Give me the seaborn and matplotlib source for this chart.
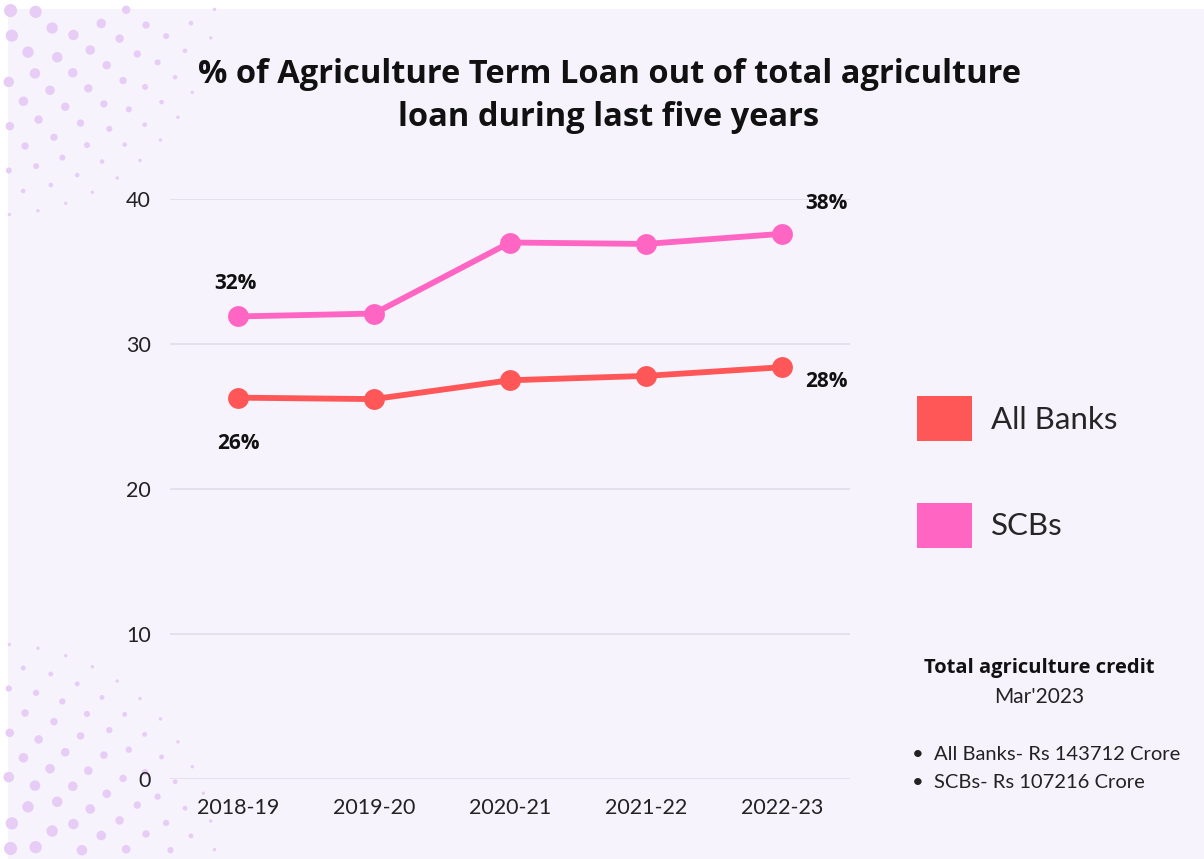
import numpy as np
import pandas as pd
import matplotlib
matplotlib.use("Agg")
import matplotlib.pyplot as plt
from matplotlib.patches import Patch, Rectangle
import seaborn as sns

# ---- data ----
years = ["2018-19", "2019-20", "2020-21", "2021-22", "2022-23"]
all_banks = [26.3, 26.2, 27.5, 27.8, 28.4]
scbs = [31.9, 32.1, 37.0, 36.9, 37.6]
series_names = ["All Banks", "SCBs"]
yticks = [0, 10, 20, 30, 40]

first_labels = ["26%", "32%"]
last_labels = ["28%", "38%"]

BG = "#F6F3FD"
DOT = "#E7CDF5"
COLORS = {"All Banks": "#FF5757", "SCBs": "#FF66C4"}

df = pd.DataFrame({
    "year": years * 2,
    "value": all_banks + scbs,
    "series": [series_names[0]] * len(years) + [series_names[1]] * len(years),
})

sns.set_theme(style="white")
plt.rcParams["font.family"] = ["Lato", "DejaVu Sans"]
HEAVY = ["Open Sans", "DejaVu Sans"]

W, H = 1204, 859
fig = plt.figure(figsize=(W / 100, H / 100), dpi=100, facecolor="white")

# lavender page with a thin white margin on top and left
fig.patches.append(Rectangle((8 / W, 0), 1 - 8 / W, 1 - 9 / H,
                             transform=fig.transFigure, facecolor=BG,
                             edgecolor="none", zorder=-10))

# halftone dot decorations in the left corners
bg_ax = fig.add_axes([0, 0, 1, 1], zorder=-5)
bg_ax.set_xlim(0, W)
bg_ax.set_ylim(H, 0)
bg_ax.axis("off")
bg_ax.patch.set_alpha(0)


def halftone(cx, cy, a0, a1, rmax, rstep=22, astep=27):
    xs, ys, ss = [], [], []
    r = rstep
    k = 0
    while r < rmax:
        n = max(2, int((a1 - a0) * r / astep))
        off = 0.5 if k % 2 else 0.0
        for i in range(n):
            a = a0 + (a1 - a0) * (i + off) / n
            x, y = cx + r * np.cos(a), cy + r * np.sin(a)
            if 8 <= x <= W and 9 <= y <= H:
                xs.append(x)
                ys.append(y)
                ss.append(max(6, 100 * (1 - r / rmax) ** 1.2))
        r += rstep
        k += 1
    bg_ax.scatter(xs, ys, s=ss, color=DOT, linewidths=0)


halftone(-5, -5, 0, np.pi / 2, 235)
halftone(-5, H + 5, -np.pi / 2, 0, 240)

# ---- main line chart ----
ax = fig.add_axes([170 / W, 1 - 779 / H, 680 / W, 580 / H])
ax.set_facecolor("none")
sns.lineplot(data=df, x="year", y="value", hue="series", palette=COLORS,
             marker="o", markersize=15, markeredgewidth=0, linewidth=4.2,
             sort=False, legend=False, ax=ax, clip_on=False)

ax.set_xlim(-0.5, len(years) - 0.5)
ax.set_ylim(0, 40)
ax.set_yticks(yticks)
ax.grid(axis="y", color="#E2DDEA", linewidth=1.2)
ax.set_axisbelow(True)
for s in ax.spines.values():
    s.set_visible(False)
ax.set_xlabel("")
ax.set_ylabel("")
ax.tick_params(axis="both", length=0, labelsize=15.5, colors="#222222")
ax.tick_params(axis="y", pad=14)
ax.tick_params(axis="x", pad=14)

# value labels at first and last points
lab_kw = dict(fontsize=15, fontweight="bold", color="#111111", ha="center",
              family=HEAVY)
ax.annotate(first_labels[0], (0, all_banks[0]), xytext=(0, -33),
            textcoords="offset points", va="center", **lab_kw)
ax.annotate(first_labels[1], (0, scbs[0]), xytext=(-2, 24),
            textcoords="offset points", va="center", **lab_kw)
ax.annotate(last_labels[0], (4, all_banks[-1]), xytext=(32, -10),
            textcoords="offset points", va="center", **lab_kw)
ax.annotate(last_labels[1], (4, scbs[-1]), xytext=(32, 22),
            textcoords="offset points", va="center", **lab_kw)

# title
fig.text(609 / W, 1 - 96 / H,
         "% of Agriculture Term Loan out of total agriculture\nloan during last five years",
         ha="center", va="center", fontsize=23.5, fontweight="bold",
         color="#111111", linespacing=1.42, family=HEAVY)

# legend
handles = [Patch(facecolor=COLORS[n], edgecolor="none") for n in series_names]
fig.legend(handles, series_names, loc="upper left",
           bbox_to_anchor=(917 / W, 1 - 396 / H), frameon=False,
           fontsize=22.5, handlelength=1.76, handleheight=1.84,
           handletextpad=0.62, labelspacing=1.98, borderpad=0,
           borderaxespad=0)

# side notes
fig.text(1039 / W, 1 - 668 / H, "Total agriculture credit", ha="center",
         va="center", fontsize=14.5, fontweight="bold", color="#111111",
         family=HEAVY)
fig.text(1039 / W, 1 - 697 / H, "Mar'2023", ha="center", va="center",
         fontsize=15, color="#222222")
fig.text(912 / W, 1 - 755 / H, "•  All Banks- Rs 143712 Crore", ha="left",
         va="center", fontsize=14.5, color="#222222")
fig.text(912 / W, 1 - 783 / H, "•  SCBs- Rs 107216 Crore", ha="left",
         va="center", fontsize=14.5, color="#222222")

fig.savefig("out.png", dpi=100, facecolor="white")
